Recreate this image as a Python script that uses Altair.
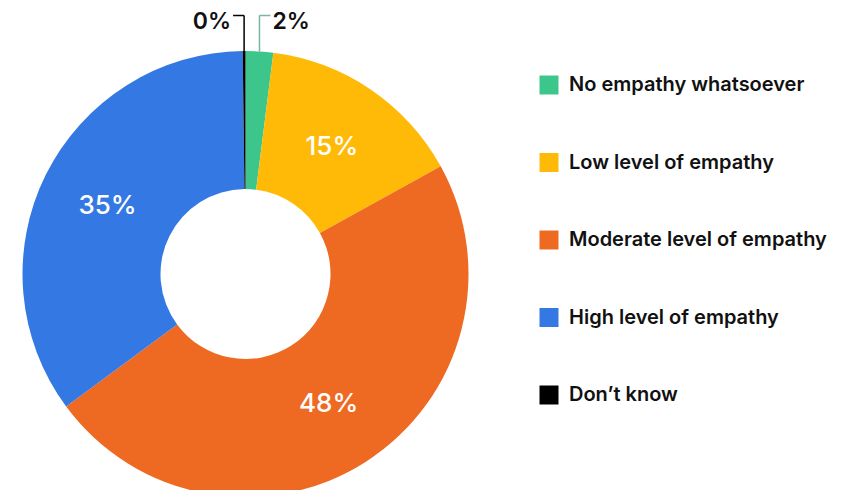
import altair as alt
import pandas as pd
import numpy as np

categories = ["No empathy whatsoever", "Low level of empathy", "Moderate level of empathy",
              "High level of empathy", "Don’t know"]
values = [2, 15, 48, 35, 0.2]
labels = ["2%", "15%", "48%", "35%", "0%"]
colors = ["#3DC68B", "#FFBA08", "#EE6A22", "#3479E3", "#000000"]
leader_colors = ["#7AB5A4", "#000000"]

CX, CY, R, R0 = 237.5, 266, 223, 85
TOP = 7.5

df = pd.DataFrame({"category": categories, "value": values, "label": labels, "order": range(len(values))})
df["inner"] = [l if v >= 5 else "" for l, v in zip(labels, values)]

# leader lines for small slices, derived from the data
vals = np.array(values, dtype=float)
total = vals.sum()
mid = (np.cumsum(vals) - vals / 2) / total * 2 * np.pi
rows_v, rows_h, rows_t = [], [], []
k = 0
for i, v in enumerate(values):
    if v >= 5:
        continue
    a = mid[i]
    d = -1 if a > np.pi else 1
    x0 = CX + R * np.sin(a)
    y0 = CY - R * np.cos(a)
    c = leader_colors[k]
    k += 1
    rows_v.append({"x": x0, "y": y0, "y2": TOP, "c": c})
    rows_h.append({"x": x0, "x2": x0 + d * 11, "y": TOP, "c": c})
    rows_t.append({"x": x0 + d * 13, "y": TOP + 6.5, "t": labels[i], "align": "right" if d < 0 else "left"})

leaders_v = pd.DataFrame(rows_v)
leaders_h = pd.DataFrame(rows_h)
texts = pd.DataFrame(rows_t)

legend = alt.Legend(
    orient="none", legendX=531, legendY=67, title=None,
    symbolType="square", symbolSize=361, symbolStrokeWidth=0,
    labelFont="Inter", labelFontSize=20, labelFontWeight=600, labelColor="#111111",
    labelOffset=10, rowPadding=57.5, labelLimit=400,
)

arc = alt.Chart(df).mark_arc(outerRadius=R, innerRadius=R0).encode(
    x=alt.value(CX), y=alt.value(CY),
    theta=alt.Theta("value:Q", stack=True),
    order=alt.Order("order:Q"),
    color=alt.Color("category:N", scale=alt.Scale(domain=categories, range=colors),
                    sort=categories, legend=legend),
)

inner_text = alt.Chart(df).mark_text(
    radius=154, font="Inter", fontSize=26, fontWeight=500, color="white"
).encode(
    x=alt.value(CX), y=alt.value(CY),
    theta=alt.Theta("value:Q", stack=True),
    order=alt.Order("order:Q"),
    detail="category:N",
    text="inner:N",
)

lv = alt.Chart(leaders_v).mark_rule(strokeWidth=1.5).encode(
    x=alt.X("x:Q", scale=None), y=alt.Y("y:Q", scale=None), y2="y2:Q",
    color=alt.Color("c:N", scale=None),
)
lh = alt.Chart(leaders_h).mark_rule(strokeWidth=1.5).encode(
    x=alt.X("x:Q", scale=None), x2="x2:Q", y=alt.Y("y:Q", scale=None),
    color=alt.Color("c:N", scale=None),
)
outer_left = alt.Chart(texts).transform_filter(alt.datum.align == "right").mark_text(
    font="Inter", fontSize=23, fontWeight=600, color="#111111", align="right", baseline="middle"
).encode(x=alt.X("x:Q", scale=None), y=alt.Y("y:Q", scale=None), text="t:N")
outer_right = alt.Chart(texts).transform_filter(alt.datum.align == "left").mark_text(
    font="Inter", fontSize=23, fontWeight=600, color="#111111", align="left", baseline="middle"
).encode(x=alt.X("x:Q", scale=None), y=alt.Y("y:Q", scale=None), text="t:N")

chart = alt.layer(arc, inner_text, lv, lh, outer_left, outer_right).resolve_scale(
    color="independent"
).properties(
    width=841, height=482, padding=0, autosize=alt.AutoSizeParams(type="none")
).configure_view(stroke=None)

chart.save("out.html", embed_options={"renderer": "svg", "actions": False})
